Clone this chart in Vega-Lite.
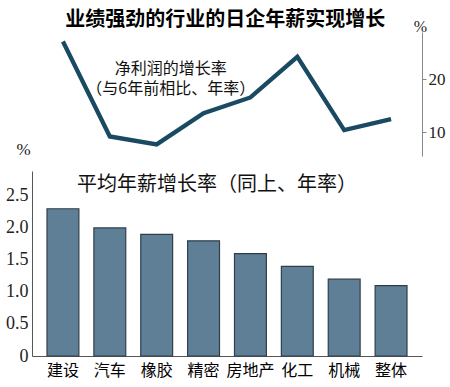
{
  "$schema": "https://vega.github.io/schema/vega-lite/v6.json",
  "background": "white",
  "padding": {"left": 5, "top": 10, "right": 5, "bottom": 5},
  "bounds": "flush",
  "spacing": 15,
  "title": {"text": "业绩强劲的行业的日企年薪实现增长", "fontSize": 20, "fontWeight": "bold", "font": "Noto Sans CJK SC", "anchor": "middle", "color": "black", "offset": -12},
  "config": {"view": {"stroke": null}, "font": "Noto Sans CJK SC"},
  "datasets": {
    "d": [
      {"industry": "建设", "profit": 27.2, "salary": 2.3},
      {"industry": "汽车", "profit": 9.2, "salary": 2.0},
      {"industry": "橡胶", "profit": 7.7, "salary": 1.9},
      {"industry": "精密", "profit": 13.6, "salary": 1.8},
      {"industry": "房地产", "profit": 16.6, "salary": 1.6},
      {"industry": "化工", "profit": 24.3, "salary": 1.4},
      {"industry": "机械", "profit": 10.4, "salary": 1.2},
      {"industry": "整体", "profit": 12.5, "salary": 1.1}
    ],
    "note": [
      {"t": "净利润的增长率\n（与6年前相比、年率）", "industry": "橡胶", "profit": 21.9}
    ]
  },
  "vconcat": [
    {
      "width": 390,
      "height": 124,
      "layer": [
        {
          "data": {"name": "d"},
          "mark": {"type": "line", "color": "#1a4a62", "strokeWidth": 4.3},
          "encoding": {
            "x": {"field": "industry", "type": "nominal", "sort": null, "scale": {"type": "band", "paddingInner": 0.32, "paddingOuter": 0.32}, "axis": null},
            "y": {"field": "profit", "type": "quantitative", "scale": {"domain": [5.5, 29], "nice": false, "zero": false},
              "axis": {"orient": "right", "values": [10, 20], "grid": false, "domainColor": "#888", "tickColor": "#888", "tickSize": 4, "labelFont": "Liberation Sans Narrow", "labelFontSize": 17, "labelColor": "#222", "labelPadding": 2,
                "title": "%", "titleAngle": 0, "titleFont": "Liberation Sans Narrow", "titleFontSize": 16, "titleFontWeight": "normal", "titleColor": "#222", "titleAlign": "center", "titleBaseline": "middle", "titleX": -2, "titleY": -6}}
          }
        },
        {
          "data": {"name": "note"},
          "mark": {"type": "text", "fontSize": 16, "lineBreak": "\n", "lineHeight": 20, "align": "center", "baseline": "middle", "dx": 14, "color": "#111"},
          "encoding": {
            "x": {"field": "industry", "type": "nominal", "sort": null},
            "y": {"field": "profit", "type": "quantitative"},
            "text": {"field": "t"}
          }
        }
      ]
    },
    {
      "width": 390,
      "height": 185,
      "data": {"name": "d"},
      "title": {"text": "平均年薪增长率（同上、年率）", "fontSize": 20, "fontWeight": "normal", "color": "#111", "offset": -24, "dy": 31, "dx": -10, "anchor": "middle"},
      "mark": {"type": "bar", "color": "#5f7f96", "stroke": "#2f3f4a", "strokeWidth": 1.2},
      "encoding": {
        "x": {"field": "industry", "type": "nominal", "sort": null, "scale": {"paddingInner": 0.32, "paddingOuter": 0.32},
          "axis": {"title": null, "labelAngle": 0, "ticks": false, "labelFontSize": 16, "labelColor": "black", "domainColor": "#555", "labelPadding": 6}},
        "y": {"field": "salary", "type": "quantitative", "scale": {"domain": [0, 2.89], "nice": false},
          "axis": {"values": [0, 0.5, 1, 1.5, 2, 2.5], "labelExpr": "datum.value == 0 ? '0' : format(datum.value, '.1f')", "grid": false, "ticks": false, "domainColor": "#555", "labelFont": "Liberation Sans Narrow", "labelFontSize": 18, "labelColor": "#222", "labelPadding": 4,
            "title": "%", "titleAngle": 0, "titleFont": "Liberation Sans Narrow", "titleFontSize": 17, "titleFontWeight": "normal", "titleColor": "#222", "titleAlign": "center", "titleBaseline": "middle", "titleX": -9, "titleY": -22}}
      }
    }
  ]
}
